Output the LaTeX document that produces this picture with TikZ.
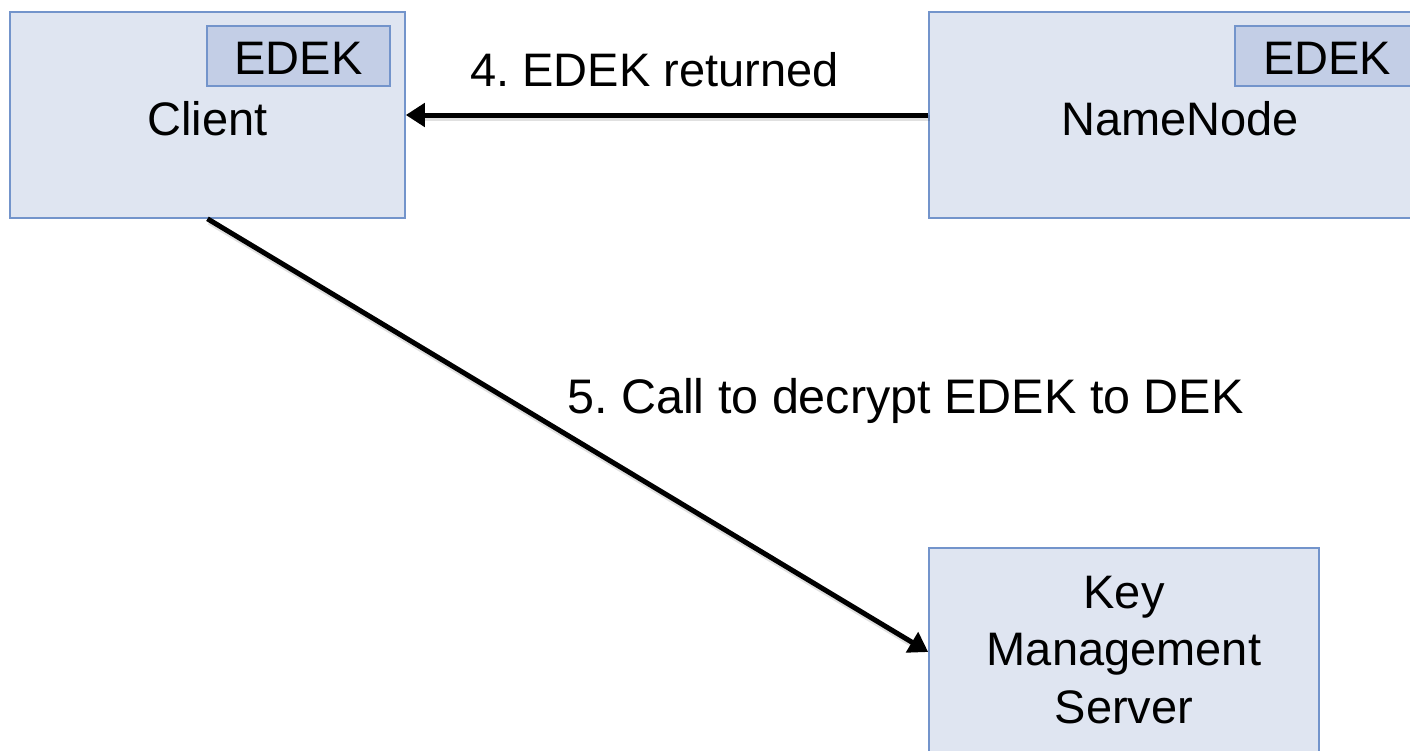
\documentclass[tikz,border=0pt]{standalone}
\usepackage{fontspec}
\setmainfont{Liberation Sans}
\frenchspacing
\usetikzlibrary{arrows.meta}
\definecolor{boxfill}{HTML}{DFE5F1}
\definecolor{boxline}{HTML}{7394CB}
\definecolor{keyfill}{HTML}{C3CEE6}
\tikzset{
  big/.style={font=\fontsize{47}{57.5}\selectfont, inner sep=0pt},
  box/.style={draw=boxline, fill=boxfill, line width=1.6pt, inner sep=0pt, minimum width=#1},
  keybox/.style={draw=boxline, fill=keyfill, line width=1.6pt, inner sep=0pt},
  arr/.style={line width=5pt, -{Triangle[length=19pt,width=23pt]}},
  shade/.style={line width=6pt, black, opacity=0.12, shorten >=16pt}
}
\begin{document}
\begin{tikzpicture}[x=1pt,y=-1pt]
  \useasboundingbox (0,0) rectangle (1410,750);
  % component boxes
  \node[box=395pt, minimum height=206pt] (client) at (207.5,115) {};
  \node[box=502pt, minimum height=206pt] (nn) at (1180,115) {};
  \node[box=390pt, minimum height=208pt] (kms) at (1124,652) {};
  % encrypted key tags
  \node[keybox, minimum width=183pt, minimum height=60pt] (ckey) at (298.5,56) {};
  \node[keybox, minimum width=184pt, minimum height=60pt] (nkey) at (1327,56) {};
  % box texts
  \node[big, anchor=base] (ckeyt) at (298.5,74) {EDEK};
  \node[big, anchor=base] (nkeyt) at (1327,74) {EDEK};
  \node[big, anchor=base] (clientt) at (207.5,135) {Client};
  \node[big, anchor=base] (nnt) at (1180,135) {NameNode};
  \node[big, align=center] (kmst) at (1124,650) {Key\\Management\\Server};
  % messages
  \draw[shade] ([shift={(2,3)}]nn.west) -- ([shift={(2,3)}]client.east);
  \draw[arr] (nn.west) -- (client.east);
  \node[big, anchor=base west] (m4) at (470,86) {4. EDEK returned};
  \draw[shade] ([shift={(2,3)}]client.south) -- ([shift={(2,3)}]kms.west);
  \draw[arr] (client.south) -- (kms.west);
  \node[big, anchor=base west, font=\fontsize{48.5}{58}\selectfont] (m5) at (567,413) {5. Call to decrypt EDEK to DEK};
\end{tikzpicture}
\end{document}
